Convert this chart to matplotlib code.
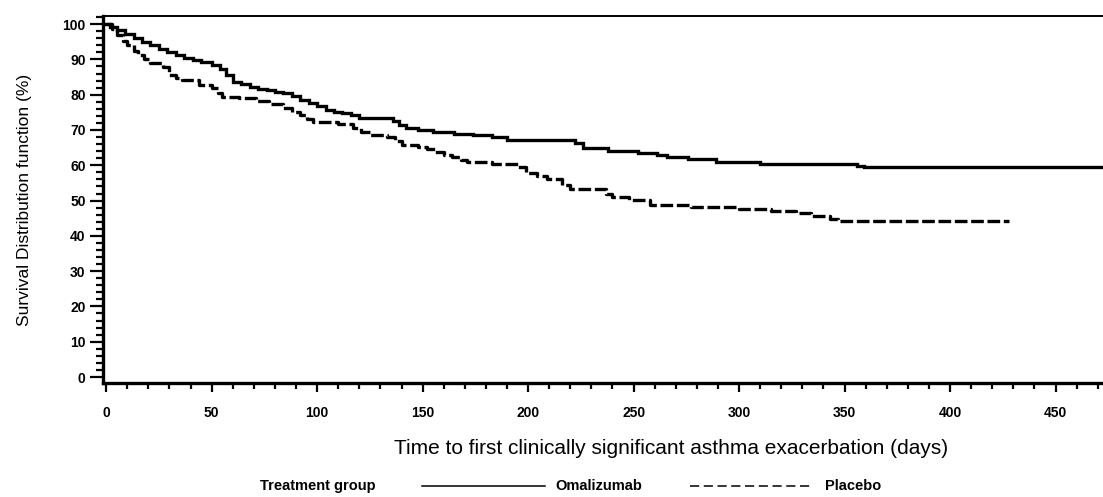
import matplotlib
matplotlib.use("Agg")
import matplotlib.pyplot as plt
from matplotlib.lines import Line2D
from matplotlib.ticker import MultipleLocator

plt.rcParams['font.family'] = ['Liberation Sans', 'DejaVu Sans']

# Kaplan-Meier estimates (days, % without exacerbation)
dias_omali = [0, 2, 5, 9, 13, 17, 21, 25, 29, 33, 37, 41, 45, 50, 54, 57, 60, 64,
              68, 72, 76, 80, 84, 88, 92, 96, 100, 104, 108, 112, 116, 120, 136,
              139, 142, 148, 155, 165, 174, 183, 190, 222, 226, 238, 252, 261,
              266, 276, 289, 310, 356, 359, 472]
surv_omali = [100, 99.3, 98.3, 97.2, 96, 95, 94, 93, 92, 91.2, 90.4, 89.8, 89.2,
              88.3, 87.3, 85.5, 83.6, 83, 82.2, 81.7, 81.2, 80.8, 80.5, 79.5, 78.5,
              77.6, 76.8, 75.6, 75.2, 74.8, 74.2, 73.4, 72.5, 71.5, 70.6, 70, 69.5,
              69, 68.6, 67.9, 67.3, 66.3, 64.8, 64, 63.5, 62.9, 62.3, 61.7, 61,
              60.3, 59.8, 59.4, 59.4]

dias_placebo = [0, 3, 5, 8, 10, 13, 15, 18, 21, 27, 30, 33, 36, 44, 50, 53, 55, 63,
                71, 77, 84, 88, 92, 95, 98, 110, 117, 121, 125, 133, 137, 140, 148,
                152, 156, 160, 164, 168, 171, 183, 195, 199, 204, 209, 216, 220,
                237, 240, 248, 258, 277, 300, 315, 327, 334, 343, 347, 428]
surv_placebo = [100, 98.5, 96.9, 95.3, 94, 92.5, 91.2, 90, 89, 87.8, 85.6, 84.8,
                84.1, 82.7, 81.9, 80.5, 79.3, 79, 78.2, 77.3, 76.2, 75.2, 74.2, 73.2,
                72.2, 71.7, 70.5, 69.5, 68.6, 68, 66.8, 65.7, 65.2, 64.5, 63.7, 63,
                62.3, 61.6, 61, 60.3, 59.4, 57.8, 57, 56, 54.4, 53.3, 52, 50.9, 50.1,
                48.7, 48.1, 47.6, 47.1, 46.4, 45.6, 44.9, 44.2, 44.2]

ticks_x = [0, 50, 100, 150, 200, 250, 300, 350, 400, 450]
ticks_y = [0, 10, 20, 30, 40, 50, 60, 70, 80, 90, 100]

fig = plt.figure(figsize=(11.03, 4.97), dpi=100)
ax = fig.add_axes([103 / 1103, 1 - 383 / 497, 1 - 103 / 1103, (383 - 16) / 497])

ax.plot(dias_omali, surv_omali, drawstyle='steps-post', color='black', lw=2.4,
        solid_joinstyle='miter')
ax.plot(dias_placebo, surv_placebo, drawstyle='steps-post', color='black', lw=2.4,
        dashes=(3.8, 1.1))

ax.set_xlim(-1.5, 472.5)
ax.set_ylim(-1.7, 102.3)
ax.set_xticks(ticks_x)
ax.set_yticks(ticks_y)
ax.xaxis.set_minor_locator(MultipleLocator(10))
ax.yaxis.set_minor_locator(MultipleLocator(2))

for lab in ax.get_xticklabels() + ax.get_yticklabels():
    lab.set_fontweight('bold')
    lab.set_fontsize(10)

ax.tick_params(axis='x', which='major', direction='out', length=6.5, width=1.6, pad=10)
ax.tick_params(axis='x', which='minor', direction='out', length=4.3, width=1.6)
ax.tick_params(axis='y', which='major', direction='out', length=9.5, width=1.6, pad=3)
ax.tick_params(axis='y', which='minor', direction='out', length=5, width=1.6)

ax.spines['left'].set_linewidth(2.4)
ax.spines['bottom'].set_linewidth(2.4)
ax.spines['top'].set_linewidth(1.4)
ax.spines['right'].set_visible(False)

fig.text(25 / 1103, 1 - 200 / 497, "Survival Distribution function (%)",
         rotation=90, ha='center', va='center', fontsize=12.5)
fig.text(671 / 1103, 1 - 449 / 497,
         "Time to first clinically significant asthma exacerbation (days)",
         ha='center', va='center', fontsize=15)

# legenda desenhada à mão embaixo
y_leg = 1 - 486 / 497
fig.text(260 / 1103, y_leg, "Treatment group", ha='left', va='center',
         fontsize=10.5, fontweight='bold')
fig.add_artist(Line2D([422 / 1103, 545 / 1103], [y_leg, y_leg],
                      transform=fig.transFigure, color='black', lw=1.1))
fig.text(555 / 1103, y_leg, "Omalizumab", ha='left', va='center',
         fontsize=10.5, fontweight='bold')
fig.add_artist(Line2D([690 / 1103, 811 / 1103], [y_leg, y_leg],
                      transform=fig.transFigure, color='black', lw=1.1,
                      dashes=(6, 3)))
fig.text(825 / 1103, y_leg, "Placebo", ha='left', va='center',
         fontsize=10.5, fontweight='bold')

fig.savefig("out.png", dpi=100)
